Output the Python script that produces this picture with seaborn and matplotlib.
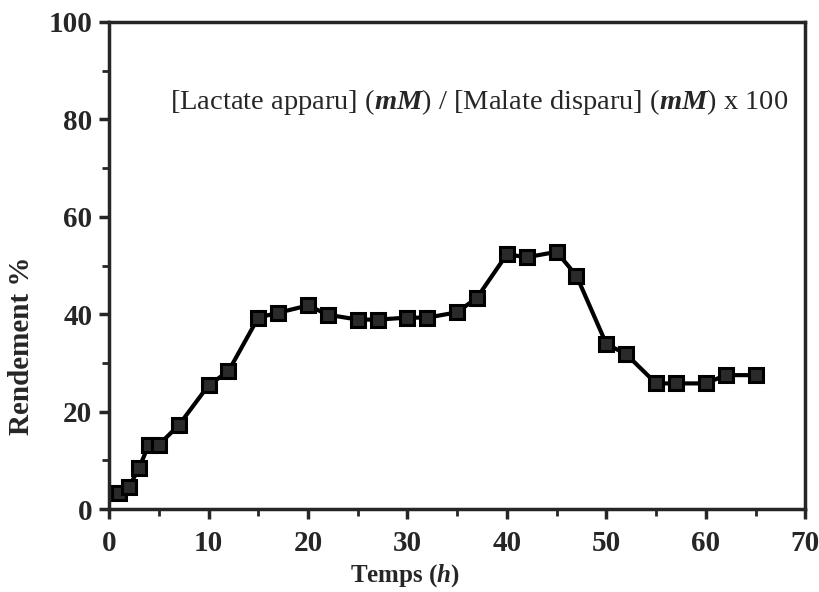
import matplotlib
matplotlib.use("Agg")
from matplotlib import pyplot
from matplotlib.ticker import MultipleLocator
import seaborn
import pandas

# donnees
temps = [1, 2, 3, 4, 5, 7, 10, 12, 15, 17, 20, 22, 25, 27, 30, 32, 35, 37,
         40, 42, 45, 47, 50, 52, 55, 57, 60, 62, 65]
rendement = [3.3, 4.5, 8.4, 13.2, 13.2, 17.2, 25.4, 28.3, 39.3, 40.3, 41.8,
             39.9, 38.9, 38.9, 39.3, 39.3, 40.4, 43.4, 52.3, 51.7, 52.8, 47.9,
             33.9, 31.8, 25.8, 25.8, 25.8, 27.5, 27.5]

df = pandas.DataFrame({"Temps": temps, "Rendement": rendement})

seaborn.set_style("ticks")
pyplot.rcParams["font.family"] = ["Liberation Serif", "DejaVu Serif"]
pyplot.rcParams["mathtext.fontset"] = "custom"
pyplot.rcParams["mathtext.rm"] = "Liberation Serif:bold"
pyplot.rcParams["mathtext.it"] = "Liberation Serif:italic:bold"
pyplot.rcParams["mathtext.bf"] = "Liberation Serif:bold"

fig = pyplot.figure(figsize=(8.2, 5.92), dpi=100)
ax = fig.add_axes([0.133, 0.140, 0.849, 0.823])

seaborn.lineplot(
    data=df, x="Temps", y="Rendement", ax=ax,
    color="black", linewidth=3,
    marker="s", markersize=9.5, markerfacecolor="#2a2a2a",
    markeredgecolor="black", markeredgewidth=2.2,
)

ax.set_xlim(0, 70)
ax.set_ylim(0, 100)
ax.xaxis.set_major_locator(MultipleLocator(10))
ax.xaxis.set_minor_locator(MultipleLocator(5))
ax.yaxis.set_major_locator(MultipleLocator(20))
ax.yaxis.set_minor_locator(MultipleLocator(10))
ax.tick_params(which="major", direction="out", length=7, width=2.5,
               labelsize=21)
ax.tick_params(axis="x", which="major", pad=8)
ax.tick_params(axis="y", which="major", pad=5)
ax.tick_params(which="minor", direction="out", length=5, width=2)
for lab in ax.get_xticklabels() + ax.get_yticklabels():
    lab.set_fontweight("bold")

for sp in ax.spines.values():
    sp.set_linewidth(2.5)
    sp.set_visible(True)

ax.set_xlabel(r"Temps ($\mathit{h}$)", fontsize=18, fontweight="bold")
ax.xaxis.set_label_coords(0.425, -0.108)
ax.set_ylabel("Rendement %", fontsize=21, fontweight="bold")
ax.yaxis.set_label_coords(-0.106, 0.335)

ax.text(6.1, 83.5,
        r"[Lactate apparu] ($\mathit{mM}$) / [Malate disparu] ($\mathit{mM}$) x 100",
        fontsize=20.5, va="center", ha="left")

fig.savefig("out.png", dpi=100)
